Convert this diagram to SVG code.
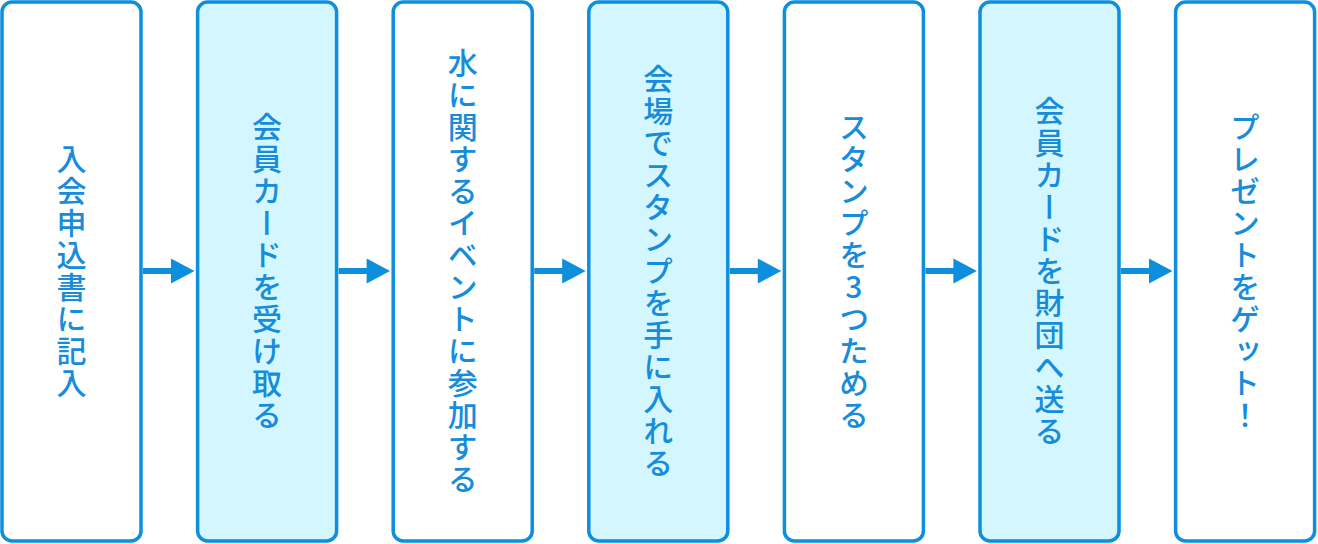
<svg xmlns="http://www.w3.org/2000/svg" width="1318" height="544" viewBox="0 0 1318 544">
<style>
.box{stroke:#0d8fde;stroke-width:3.5;}
.w{fill:#ffffff;}
.c{fill:#d4f6fe;}
.t{font-family:"Noto Sans CJK JP","Noto Sans",sans-serif;font-size:30px;font-weight:500;fill:#168cda;writing-mode:vertical-rl;text-orientation:upright;text-anchor:middle;letter-spacing:2px;}
.ln{stroke:#0d8fde;stroke-width:6;fill:none;}
.hd{fill:#0d8fde;}
</style>
<rect width="1318" height="544" fill="#ffffff"/>
<g id="node1"><rect class="box w" x="2" y="2" width="139" height="539" rx="10"/><text class="t" x="71.5" y="272">入会申込書に記入</text></g>
<g id="node2"><rect class="box c" x="197.6" y="2" width="139" height="539" rx="10"/><text class="t" x="267.1" y="272">会員カードを受け取る</text></g>
<g id="node3"><rect class="box w" x="393.2" y="2" width="139" height="539" rx="10"/><text class="t" x="462.7" y="272">水に関するイベントに参加する</text></g>
<g id="node4"><rect class="box c" x="588.8" y="2" width="139" height="539" rx="10"/><text class="t" x="658.3" y="272">会場でスタンプを手に入れる</text></g>
<g id="node5"><rect class="box w" x="784.4" y="2" width="139" height="539" rx="10"/><text class="t" x="853.9" y="272">スタンプを3つためる</text></g>
<g id="node6"><rect class="box c" x="980" y="2" width="139" height="539" rx="10"/><text class="t" x="1049.5" y="272">会員カードを財団へ送る</text></g>
<g id="node7"><rect class="box w" x="1175.6" y="2" width="139" height="539" rx="10"/><text class="t" x="1245.1" y="272">プレゼントをゲット！</text></g>
<g id="connectors">
<line class="ln" x1="143" y1="271" x2="173" y2="271"/><polygon class="hd" points="171,258.5 194.5,271 171,283.5"/>
<line class="ln" x1="338.6" y1="271" x2="368.6" y2="271"/><polygon class="hd" points="366.6,258.5 390.1,271 366.6,283.5"/>
<line class="ln" x1="534.2" y1="271" x2="564.2" y2="271"/><polygon class="hd" points="562.2,258.5 585.7,271 562.2,283.5"/>
<line class="ln" x1="729.8" y1="271" x2="759.8" y2="271"/><polygon class="hd" points="757.8,258.5 781.3,271 757.8,283.5"/>
<line class="ln" x1="925.4" y1="271" x2="955.4" y2="271"/><polygon class="hd" points="953.4,258.5 976.9,271 953.4,283.5"/>
<line class="ln" x1="1121" y1="271" x2="1151" y2="271"/><polygon class="hd" points="1149,258.5 1172.5,271 1149,283.5"/>
</g>
</svg>
